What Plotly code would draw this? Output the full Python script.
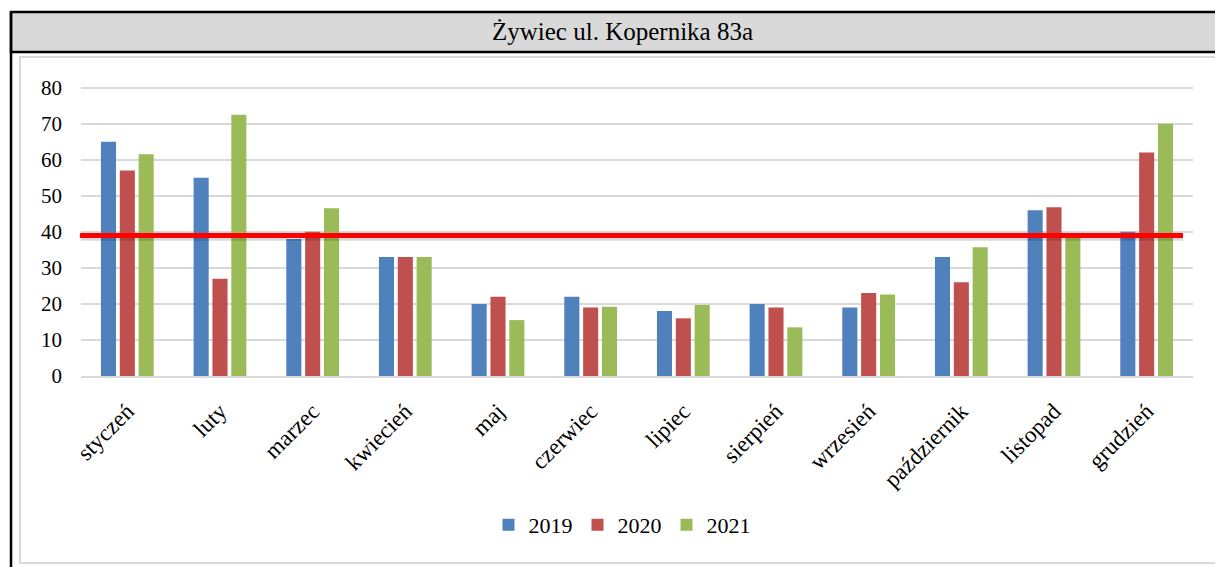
import plotly.graph_objects as go

months = ["styczeń", "luty", "marzec", "kwiecień", "maj", "czerwiec", "lipiec",
          "sierpień", "wrzesień", "październik", "listopad", "grudzień"]
v2019 = [65, 55, 38, 33, 20, 22, 18, 20, 19, 33, 46, 40]
v2020 = [57, 27, 40, 33, 22, 19, 16, 19, 23, 26, 46.8, 62]
v2021 = [61.5, 72.5, 46.5, 33, 15.5, 19.2, 19.7, 13.5, 22.6, 35.7, 38.8, 70]
series_names = ["2019", "2020", "2021"]
colors = ["#4f81bd", "#c0504d", "#9bbb59"]
LIMIT = 39
title_text = "Żywiec ul. Kopernika 83a"

OFF = 8  # page body margin
W, H = 1223 - OFF, 567
L, R, T, B = 81, 1193, 84, 376  # plot area in page pixels

def px(x):
    return (x - L) / (R - L)

def py(y):
    return (B - y) / (B - T)

FF = "Liberation Serif"

fig = go.Figure()
for name, vals, c in zip(series_names, [v2019, v2020, v2021], colors):
    fig.add_trace(go.Bar(x=months, y=vals, name=name, marker_color=c,
                         marker_line_width=0))

shapes = [
    dict(type="rect", xref="paper", yref="paper", x0=px(11), x1=px(1240), y0=py(52), y1=py(12),
         fillcolor="#d9d9d9", line=dict(color="black", width=2.5), layer="below"),
    dict(type="line", xref="paper", yref="paper", x0=px(11), x1=px(11), y0=py(12), y1=py(590),
         line=dict(color="black", width=2.5)),
    dict(type="rect", xref="paper", yref="paper", x0=px(20), x1=px(1240), y0=py(563), y1=py(57),
         line=dict(color="#d9d9d9", width=2), layer="below"),
    dict(type="line", xref="x domain", yref="y", x0=0, x1=0.991, y0=LIMIT - 0.8, y1=LIMIT - 0.8,
         line=dict(color="rgba(0,0,0,0.15)", width=5)),
    dict(type="line", xref="x domain", yref="y", x0=-0.001, x1=0.991, y0=LIMIT, y1=LIMIT,
         line=dict(color="#ff0000", width=5)),
]

fig.update_layout(
    width=W, height=H,
    margin=dict(l=L - OFF, r=1223 - R, t=T - OFF, b=H - (B - OFF)),
    paper_bgcolor="white", plot_bgcolor="white",
    barmode="group", bargap=0.39, bargroupgap=0.2,
    font=dict(family=FF, size=21, color="black"),
    shapes=shapes,
    showlegend=True,
    legend=dict(orientation="h", x=px(622), xanchor="center", y=py(525), yanchor="middle",
                font=dict(family=FF, size=22, color="black"), itemwidth=30, traceorder="normal"),
    annotations=[dict(text=title_text, xref="paper", yref="paper", x=px(622), y=py(32),
                      showarrow=False, font=dict(size=25, family=FF, color="black"),
                      xanchor="center", yanchor="middle")],
)
fig.update_yaxes(range=[0, 81], tickvals=[0, 10, 20, 30, 40, 50, 60, 70, 80],
                 showgrid=True, gridcolor="#d9d9d9", gridwidth=1.5, zeroline=False,
                 showline=False, ticks="", ticklabelstandoff=18,
                 tickfont=dict(family=FF, size=21, color="black"))
fig.update_xaxes(tickangle=-45, showgrid=False, showline=True, linecolor="#d9d9d9",
                 linewidth=1.5, ticks="", ticklabelstandoff=11,
                 tickfont=dict(family=FF, size=23, color="black"))

fig.write_html("out.html")
